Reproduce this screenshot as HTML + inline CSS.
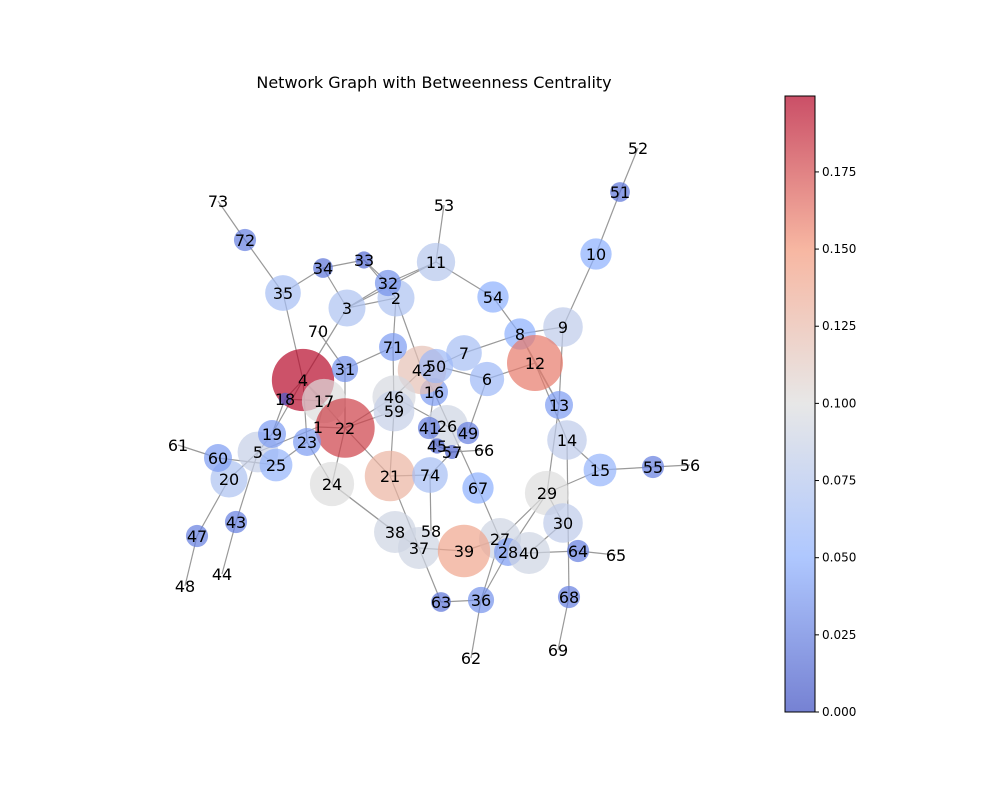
<!DOCTYPE html>
<html><head><meta charset="utf-8"><style>
body{margin:0;background:#fff;font-family:"Liberation Sans","DejaVu Sans",sans-serif}
svg text{font-family:"DejaVu Sans","Liberation Sans",sans-serif}
</style></head><body>
<svg id="c" width="1000" height="800">
<defs><linearGradient id="cm" x1="0" y1="1" x2="0" y2="0">
<stop offset="0" stop-color="#3b4cc0"/><stop offset="0.25" stop-color="#8caffe"/><stop offset="0.5" stop-color="#dddddd"/><stop offset="0.75" stop-color="#f4987a"/><stop offset="1" stop-color="#b40426"/></linearGradient></defs>
<text x="434" y="88" font-size="16" text-anchor="middle">Network Graph with Betweenness Centrality</text>
<g id="edges"></g><g id="nodes"></g><g id="labels"></g>
<rect x="785" y="96" width="30" height="616" fill="url(#cm)" opacity="0.7"/>
<rect x="785" y="96" width="30" height="616" fill="none" stroke="#000" stroke-width="1"/>
<g id="cbticks"></g>
</svg>
<script>
const nodeIds=[1,2,3,4,5,6,7,8,9,10,11,12,13,14,15,16,17,18,19,20,21,22,23,24,25,26,27,28,29,30,31,32,33,34,35,36,37,38,39,40,41,42,43,44,45,46,47,48,49,50,51,52,53,54,55,56,57,58,59,60,61,62,63,64,65,66,67,68,69,70,71,72,73,74];
const nodeX=[318,396,347,303,258,487,464,520,563,596,436,535,559,567,600,434,324,285,272,229,390,345,307,332,276,447,500,508,547,563,345,388,364,323,283,481,419,395,464,529,429,422,236,222,437,394,197,185,468,436,620,638,444,493,653,690,452,431,394,218,178,471,441,578,616,484,478,569,558,318,393,245,218,430];
const nodeY=[427,298,308,380,452,379,353,334,327,254,262,363,405,440,470,392,401,399,434,479,476,428,442,484,465,426,539,552,493,523,369,283,260,268,293,600,548,532,551,553,428,370,522,574,446,397,536,586,433,366,192,148,205,297,467,465,452,531,411,458,445,658,602,551,555,450,488,597,650,331,347,240,201,475];
const centrality=[0,0.07,0.07,0.198,0.085,0.06,0.065,0.05,0.08,0.05,0.075,0.16,0.04,0.08,0.055,0.04,0.1,0.008,0.04,0.07,0.13,0.18,0.04,0.1,0.055,0.09,0.09,0.04,0.1,0.08,0.035,0.035,0.015,0.02,0.065,0.035,0.09,0.09,0.14,0.09,0.025,0.12,0.025,0,0.012,0.095,0.025,0,0.025,0.06,0.02,0,0,0.05,0.025,0,0.01,0,0.085,0.04,0,0,0.02,0.025,0,0,0.05,0.025,0,0,0.04,0.025,0,0.065];
const edgeFrom=[72,72,35,35,34,34,33,33,32,32,3,3,11,11,54,8,8,8,9,9,10,51,12,12,13,14,14,15,15,55,68,29,29,29,30,40,64,40,28,27,27,67,36,36,63,37,37,38,39,39,21,21,21,74,74,45,45,57,49,49,26,46,46,2,2,71,71,42,50,50,7,16,59,22,22,4,4,4,4,4,18,18,17,19,5,5,5,60,60,20,47,43,23,23,24,31,31,1,1,12];
const edgeTo=[73,35,34,4,33,3,32,2,11,3,2,11,53,54,8,9,12,13,10,13,51,52,6,14,29,15,68,55,29,56,69,30,28,27,40,64,65,28,36,36,67,16,62,63,37,38,21,24,37,27,74,22,59,58,57,41,57,66,6,26,46,22,42,71,42,31,59,16,6,7,8,41,22,4,24,18,17,23,19,3,17,19,1,5,20,25,43,25,61,47,48,44,25,24,38,70,22,22,5,13];
const vmax=0.1996;
function xS(i){return nodeX[i];}
function yS(i){return nodeY[i];}
function rS(v){return Math.sqrt(v)*70;}
const stops=[[0,[59,76,192]],[0.25,[140,175,254]],[0.5,[221,221,221]],[0.75,[244,152,122]],[1,[180,4,38]]];
function cmap(v){let t=Math.min(1,v/vmax);for(let k=0;k<stops.length-1;k++){const a=stops[k],b=stops[k+1];if(t<=b[0]){const f=(t-a[0])/(b[0]-a[0]);return 'rgb('+a[1].map((c,j)=>Math.round(c+(b[1][j]-c)*f)).join(',')+')';}}return 'rgb(180,4,38)';}
const NS='http://www.w3.org/2000/svg';
const idx=id=>nodeIds.indexOf(id);
const eg=document.getElementById('edges');
for(let e=0;e<edgeFrom.length;e++){const a=idx(edgeFrom[e]),b=idx(edgeTo[e]);const l=document.createElementNS(NS,'line');
l.setAttribute('x1',xS(a));l.setAttribute('y1',yS(a));l.setAttribute('x2',xS(b));l.setAttribute('y2',yS(b));l.setAttribute('stroke','#999');l.setAttribute('stroke-width','1.2');


eg.appendChild(l);}
const ng=document.getElementById('nodes'),lg=document.getElementById('labels');
for(let i=0;i<nodeIds.length;i++){const v=centrality[i];
if(v>0){const c=document.createElementNS(NS,'circle');c.setAttribute('cx',xS(i));c.setAttribute('cy',yS(i));c.setAttribute('r',rS(v));c.setAttribute('fill',cmap(v));c.setAttribute('fill-opacity','0.7');


ng.appendChild(c);}
const t=document.createElementNS(NS,'text');t.setAttribute('x',xS(i));t.setAttribute('y',yS(i)+6);t.setAttribute('font-size','16');t.setAttribute('text-anchor','middle');t.textContent=nodeIds[i];


lg.appendChild(t);}
const tickVals=[0,0.025,0.05,0.075,0.1,0.125,0.15,0.175];
const tickLabels=['0.000','0.025','0.050','0.075','0.100','0.125','0.150','0.175'];
const cb=document.getElementById('cbticks');
function cbY(v){return 712-v/vmax*616;}
for(let k=0;k<tickVals.length;k++){const y=cbY(tickVals[k]);
const l=document.createElementNS(NS,'line');l.setAttribute('x1',815);l.setAttribute('x2',819);l.setAttribute('y1',y);l.setAttribute('y2',y);l.setAttribute('stroke','#000');


cb.appendChild(l);
const t=document.createElementNS(NS,'text');t.setAttribute('x',822);t.setAttribute('y',y+4);t.setAttribute('font-size','12');t.textContent=tickLabels[k];


cb.appendChild(t);}
</script>
</body></html>
